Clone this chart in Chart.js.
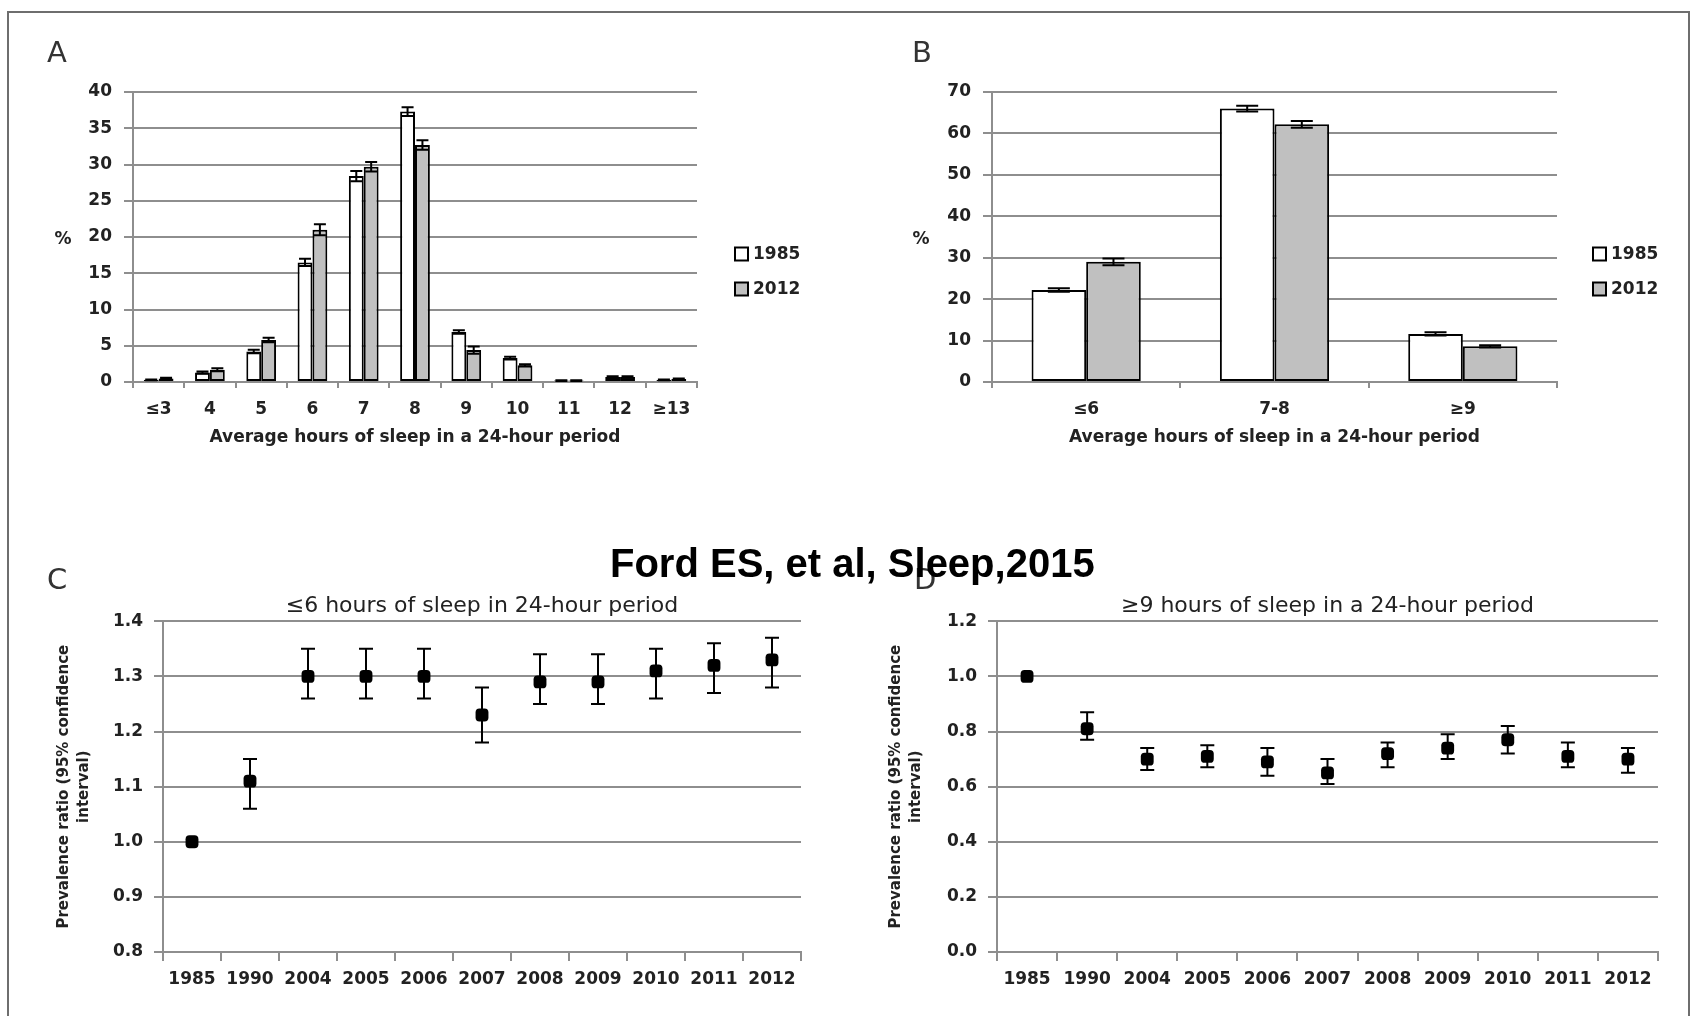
<!DOCTYPE html>
<html>
<head>
<meta charset="utf-8">
<script src="https://cdn.jsdelivr.net/npm/chart.js@4.4.1/dist/chart.umd.min.js"></script>
<style>
  body { margin: 0; background: #fff; }
  #page { position: relative; width: 1696px; height: 1016px; overflow: hidden; background: #fff; }
  #frame { position: absolute; left: 7px; top: 11px; width: 1679px; height: 1100px; border: 2px solid #6e6e6e; }
  canvas { position: absolute; }
  .letter { position: absolute; font-family: 'DejaVu Sans'; font-size: 29px; line-height: 29px; color: #333; }
  .pct { position: absolute; font-family: 'DejaVu Sans'; font-weight: bold; font-size: 17px; line-height: 17px; color: #222; transform: translate(-50%, -50%); }
  #caption { position: absolute; left: 610px; top: 543px; font-family: 'Liberation Sans', Arial, sans-serif; font-weight: bold; font-size: 40px; line-height: 40px; color: #000; white-space: nowrap; z-index: 5; }
</style>
</head>
<body>
<div id="page">
  <div id="frame"></div>
  <canvas id="chartA" width="848" height="470" style="left:0px; top:0px"></canvas>
  <canvas id="chartB" width="848" height="470" style="left:848px; top:0px"></canvas>
  <canvas id="chartC" width="848" height="476" style="left:0px; top:540px"></canvas>
  <canvas id="chartD" width="848" height="476" style="left:848px; top:540px"></canvas>
  <div class="letter" style="left:47px; top:38px">A</div>
  <div class="letter" style="left:912px; top:38px">B</div>
  <div class="letter" style="left:47px; top:565px">C</div>
  <div class="letter" style="left:914px; top:565px">D</div>
  <div class="pct" style="left:63px; top:238px">%</div>
  <div class="pct" style="left:921px; top:238px">%</div>
  <div id="caption">Ford ES, et al, Sleep,2015</div>
</div>
<script>
// panel A - sleep hours distribution
var hoursA = ['≤3', '4', '5', '6', '7', '8', '9', '10', '11', '12', '≥13'];
var pct1985A = [0.3, 1.3, 4.2, 16.5, 28.4, 37.3, 6.9, 3.3, 0.2, 0.7, 0.3];
var err1985A = [0.05, 0.15, 0.25, 0.5, 0.7, 0.6, 0.25, 0.2, 0.05, 0.1, 0.05];
var pct2012A = [0.5, 1.7, 5.8, 21.0, 29.7, 32.7, 4.4, 2.3, 0.2, 0.7, 0.4];
var err2012A = [0.1, 0.2, 0.3, 0.75, 0.65, 0.65, 0.5, 0.15, 0.05, 0.1, 0.1];

// panel B - grouped hours
var hoursB = ['≤6', '7-8', '≥9'];
var pct1985B = [22.2, 66.0, 11.6];
var err1985B = [0.4, 0.7, 0.4];
var pct2012B = [29.0, 62.2, 8.6];
var err2012B = [0.8, 0.8, 0.3];

// panels C and D - prevalence ratios by year
var years = ['1985', '1990', '2004', '2005', '2006', '2007', '2008', '2009', '2010', '2011', '2012'];
var ratioShort = [1.00, 1.11, 1.30, 1.30, 1.30, 1.23, 1.29, 1.29, 1.31, 1.32, 1.33];
var lowShort   = [1.00, 1.06, 1.26, 1.26, 1.26, 1.18, 1.25, 1.25, 1.26, 1.27, 1.28];
var highShort  = [1.00, 1.15, 1.35, 1.35, 1.35, 1.28, 1.34, 1.34, 1.35, 1.36, 1.37];
var ratioLong = [1.00, 0.81, 0.70, 0.71, 0.69, 0.65, 0.72, 0.74, 0.77, 0.71, 0.70];
var lowLong   = [1.00, 0.77, 0.66, 0.67, 0.64, 0.61, 0.67, 0.70, 0.72, 0.67, 0.65];
var highLong  = [1.00, 0.87, 0.74, 0.75, 0.74, 0.70, 0.76, 0.79, 0.82, 0.76, 0.74];

var GRID = '#8e8e8e';
var TXT = '#222';
var BOLD = { family: "'DejaVu Sans'", size: 17, weight: 'bold' };

Chart.defaults.font.family = "'DejaVu Sans'";
Chart.defaults.color = TXT;

// draws the error bars from the dataset arrays
var errorBars = {
    id: 'errorBars',
    afterDatasetsDraw: function(chart, args, opts) {
        var ctx = chart.ctx;
        var yScale = chart.scales.y;
        ctx.save();
        ctx.strokeStyle = '#000';
        ctx.lineWidth = 2;
        chart.data.datasets.forEach(function(ds, di) {
            var meta = chart.getDatasetMeta(di);
            meta.data.forEach(function(el, i) {
                var lo, hi;
                if (ds.errors) {
                    lo = ds.data[i] - ds.errors[i];
                    hi = ds.data[i] + ds.errors[i];
                } else if (ds.errLow) {
                    lo = ds.errLow[i];
                    hi = ds.errHigh[i];
                } else {
                    return;
                }
                if (hi - lo <= 0) return;
                var x = el.x;
                var y1 = yScale.getPixelForValue(hi);
                var y2 = yScale.getPixelForValue(lo);
                ctx.beginPath();
                ctx.moveTo(x, y1); ctx.lineTo(x, y2);
                ctx.moveTo(x - opts.cap, y1); ctx.lineTo(x + opts.cap, y1);
                ctx.moveTo(x - opts.cap, y2); ctx.lineTo(x + opts.cap, y2);
                ctx.stroke();
            });
        });
        ctx.restore();
    }
};

// excel style legend on the right
var boxLegend = {
    id: 'boxLegend',
    afterDraw: function(chart, args, opts) {
        if (!opts || opts.x === undefined) return;
        var ctx = chart.ctx;
        ctx.save();
        ctx.font = 'bold 17px "DejaVu Sans"';
        ctx.textBaseline = 'middle';
        chart.data.datasets.forEach(function(ds, i) {
            var y = opts.y + i * opts.gap;
            var s = opts.size;
            ctx.fillStyle = ds.backgroundColor;
            ctx.fillRect(opts.x, y - s / 2, s, s);
            ctx.strokeStyle = '#000';
            ctx.lineWidth = 2;
            ctx.strokeRect(opts.x, y - s / 2, s, s);
            ctx.fillStyle = TXT;
            ctx.fillText(ds.label, opts.x + s + 5, y + 1);
        });
        ctx.restore();
    }
};

function barChart(id, labels, d1985, e1985, d2012, e2012, yMax, yStep, yWidth, padRight, legendX, cap) {
    new Chart(document.getElementById(id), {
        type: 'bar',
        data: {
            labels: labels,
            datasets: [
                { label: '1985', data: d1985, errors: e1985, backgroundColor: '#ffffff', borderColor: '#000', borderWidth: 2, borderSkipped: false, categoryPercentage: 0.58, barPercentage: 1 },
                { label: '2012', data: d2012, errors: e2012, backgroundColor: '#c0c0c0', borderColor: '#000', borderWidth: 2, borderSkipped: false, categoryPercentage: 0.58, barPercentage: 1 }
            ]
        },
        options: {
            responsive: false,
            animation: false,
            layout: { padding: { top: 92, right: padRight, left: 0, bottom: 0 } },
            plugins: {
                legend: { display: false },
                tooltip: { enabled: false },
                errorBars: { cap: cap },
                boxLegend: { x: legendX, y: 254, gap: 35, size: 13 }
            },
            scales: {
                x: {
                    offset: true,
                    grid: { offset: true, drawOnChartArea: false, drawTicks: true, tickLength: 6, color: GRID, lineWidth: 2 },
                    border: { display: true, color: GRID, width: 2 },
                    ticks: { autoSkip: false, maxRotation: 0, padding: 11, font: BOLD, color: TXT },
                    title: { display: true, text: 'Average hours of sleep in a 24-hour period', font: BOLD, color: TXT, padding: { top: 0, bottom: 22 } },
                    afterFit: function(s) { s.height = 88; }
                },
                y: {
                    min: 0,
                    max: yMax,
                    ticks: { stepSize: yStep, padding: 12, font: BOLD, color: TXT },
                    grid: { color: GRID, lineWidth: 2, tickLength: 9 },
                    border: { display: true, color: GRID, width: 2 },
                    afterFit: function(s) { s.width = yWidth; }
                }
            }
        },
        plugins: [errorBars, boxLegend]
    });
}

function ratioChart(id, title, ratio, low, high, yMin, yMax, yStep, yWidth, padRight, titlePad) {
    new Chart(document.getElementById(id), {
        type: 'line',
        data: {
            labels: years,
            datasets: [{
                label: title,
                data: ratio,
                errLow: low,
                errHigh: high,
                showLine: false,
                pointStyle: 'rectRounded',
                pointRadius: 7.5,
                pointBackgroundColor: '#000',
                pointBorderWidth: 0
            }]
        },
        options: {
            responsive: false,
            animation: false,
            layout: { padding: { top: 54, right: padRight, left: 0, bottom: 0 } },
            plugins: {
                legend: { display: false },
                tooltip: { enabled: false },
                errorBars: { cap: 7 },
                title: { display: true, text: title, fullSize: false, color: TXT, font: { family: "'DejaVu Sans'", size: 22, weight: 'normal', lineHeight: 1.15 }, padding: { top: 0, bottom: 2 } }
            },
            scales: {
                x: {
                    offset: true,
                    grid: { offset: true, drawOnChartArea: false, drawTicks: true, tickLength: 9, color: GRID, lineWidth: 2 },
                    border: { display: true, color: GRID, width: 2 },
                    ticks: { autoSkip: false, maxRotation: 0, padding: 8, font: BOLD, color: TXT },
                    afterFit: function(s) { s.height = 64; }
                },
                y: {
                    min: yMin,
                    max: yMax,
                    ticks: {
                        stepSize: yStep, padding: 11, font: BOLD, color: TXT,
                        callback: function(v) { return Number(v).toFixed(1); }
                    },
                    grid: { color: GRID, lineWidth: 2, tickLength: 9 },
                    border: { display: true, color: GRID, width: 2 },
                    title: {
                        display: true,
                        text: ['Prevalence ratio (95% confidence', 'interval)'],
                        color: TXT,
                        font: { family: "'DejaVu Sans'", size: 15, weight: 'bold', lineHeight: '20px' },
                        padding: { top: titlePad, bottom: 0 }
                    },
                    afterFit: function(s) { s.width = yWidth; }
                }
            }
        },
        plugins: [errorBars]
    });
}

barChart('chartA', hoursA, pct1985A, err1985A, pct2012A, err2012A, 40, 5, 133, 151, 735, 6);
barChart('chartB', hoursB, pct1985B, err1985B, pct2012B, err2012B, 70, 10, 144, 139, 745, 11);
ratioChart('chartC', '≤6 hours of sleep in 24-hour period', ratioShort, lowShort, highShort, 0.8, 1.4, 0.1, 163, 47, 54);
ratioChart('chartD', '≥9 hours of sleep in a 24-hour period', ratioLong, lowLong, highLong, 0, 1.2, 0.2, 149, 38, 38);
</script>
</body>
</html>
